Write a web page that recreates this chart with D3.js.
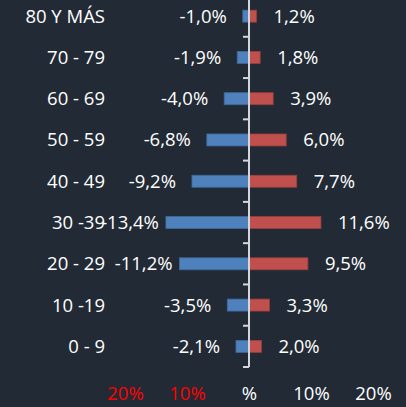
<!DOCTYPE html>
<html>
<head>
<meta charset="utf-8">
<script src="https://cdn.jsdelivr.net/npm/d3@7.9.0/dist/d3.min.js"></script>
<style>
  html, body { margin: 0; padding: 0; background: #222b35; }
  svg { display: block; }
</style>
</head>
<body>
<svg id="chart"></svg>
<script>
const categories = ["80 Y MÁS", "70 - 79", "60 - 69", "50 - 59", "40 - 49", "30 -39", "20 - 29", "10 -19", "0 - 9"];
const leftValues = [-1.0, -1.9, -4.0, -6.8, -9.2, -13.4, -11.2, -3.5, -2.1];
const rightValues = [1.2, 1.8, 3.9, 6.0, 7.7, 11.6, 9.5, 3.3, 2.0];
const tickValues = [-20, -10, 0, 10, 20];
const tickLabels = ["20%", "10%", "%", "10%", "20%"];

const width = 406;
const height = 407;
const font = "'Open Sans', sans-serif";
const fontSize = "18.5px";

const svg = d3.select("#chart").attr("width", width).attr("height", height);

svg.append("rect").attr("width", width).attr("height", height).attr("fill", "#222b35");

const x = d3.scaleLinear().domain([-20, 20]).range([125, 373]);
const y = d3.scaleBand().domain(categories).range([-4.5, 367]).paddingInner(0.71).paddingOuter(0.355);

const fmt = (v) => v.toFixed(1).replace(".", ",") + "%";

// bars
svg.selectAll(".bar-left")
  .data(categories)
  .enter()
  .append("rect")
  .attr("x", (d, i) => x(leftValues[i]))
  .attr("y", (d) => y(d))
  .attr("width", (d, i) => x(0) - x(leftValues[i]))
  .attr("height", y.bandwidth())
  .attr("fill", "#4f81bd")
  .attr("stroke", "#3f6a9c")
  .attr("stroke-width", 0.8);

svg.selectAll(".bar-right")
  .data(categories)
  .enter()
  .append("rect")
  .attr("x", x(0))
  .attr("y", (d) => y(d))
  .attr("width", (d, i) => x(rightValues[i]) - x(0))
  .attr("height", y.bandwidth())
  .attr("fill", "#c0504d")
  .attr("stroke", "#9c3f3c")
  .attr("stroke-width", 0.8);

// center axis with ticks at band boundaries
const [y0, y1] = y.range();
svg.append("line")
  .attr("x1", x(0)).attr("x2", x(0))
  .attr("y1", y0).attr("y2", y1)
  .attr("stroke", "#d4d8dc")
  .attr("stroke-width", 2);

svg.selectAll(".cat-tick")
  .data(d3.range(1, categories.length + 1))
  .enter()
  .append("line")
  .attr("x1", x(0) - 6).attr("x2", x(0))
  .attr("y1", (i) => y0 + i * y.step())
  .attr("y2", (i) => y0 + i * y.step())
  .attr("stroke", "#d4d8dc")
  .attr("stroke-width", 2);

// category labels
svg.selectAll(".cat-label")
  .data(categories)
  .enter()
  .append("text")
  .attr("x", 105)
  .attr("y", (d) => y(d) + y.bandwidth() / 2)
  .attr("dy", "0.35em")
  .attr("text-anchor", "end")
  .attr("fill", "#ffffff")
  .style("font-family", font)
  .style("font-size", fontSize)
  .text((d) => d);

// value labels (left ones pushed right of the category labels, but kept off the bar)
const labelMinX = 117;
svg.selectAll(".val-left")
  .data(categories)
  .enter()
  .append("text")
  .attr("y", (d) => y(d) + y.bandwidth() / 2)
  .attr("dy", "0.35em")
  .attr("fill", "#ffffff")
  .style("font-family", font)
  .style("font-size", fontSize)
  .text((d, i) => fmt(leftValues[i]))
  .each(function (d, i) {
    const w = this.getComputedTextLength();
    const barEnd = x(leftValues[i]);
    let start = Math.max(barEnd - 16 - w, labelMinX);
    if (start + w > barEnd - 7) start = barEnd - 7 - w;
    d3.select(this).attr("x", start);
  });

svg.selectAll(".val-right")
  .data(categories)
  .enter()
  .append("text")
  .attr("x", (d, i) => x(rightValues[i]) + 17)
  .attr("y", (d) => y(d) + y.bandwidth() / 2)
  .attr("dy", "0.35em")
  .attr("fill", "#ffffff")
  .style("font-family", font)
  .style("font-size", fontSize)
  .text((d, i) => fmt(rightValues[i]));

// bottom axis labels
const xAxis = svg.append("g")
  .attr("transform", "translate(0,384)")
  .call(d3.axisBottom(x).tickValues(tickValues).tickSize(0).tickFormat((d, i) => tickLabels[i]));
xAxis.select(".domain").remove();
xAxis.selectAll("text")
  .attr("fill", (d) => (d < 0 ? "#ff0000" : "#ffffff"))
  .style("font-family", font)
  .style("font-size", fontSize);
</script>
</body>
</html>
